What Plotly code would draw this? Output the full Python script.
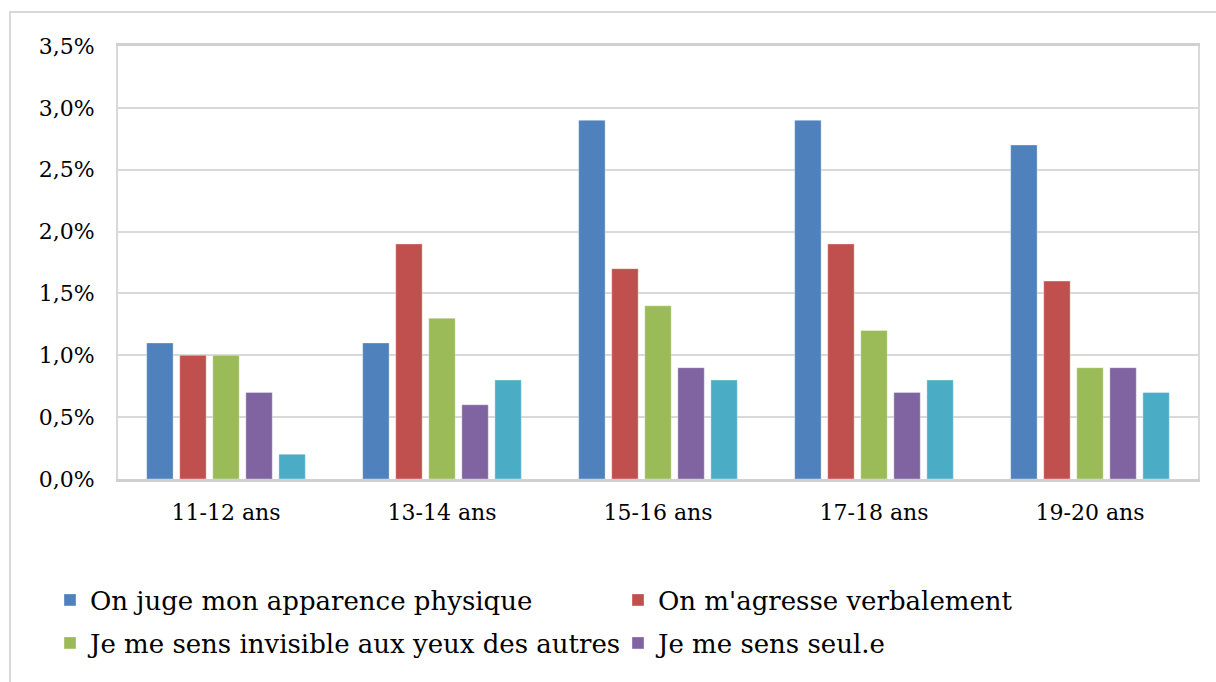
import plotly.graph_objects as go

categories = ["11-12 ans", "13-14 ans", "15-16 ans", "17-18 ans", "19-20 ans"]
series_names = [
    "On juge mon apparence physique",
    "On m'agresse verbalement",
    "Je me sens invisible aux yeux des autres",
    "Je me sens seul.e",
    "Autre",
]
apparence = [1.1, 1.1, 2.9, 2.9, 2.7]
agresse = [1.0, 1.9, 1.7, 1.9, 1.6]
invisible = [1.0, 1.3, 1.4, 1.2, 0.9]
seul = [0.7, 0.6, 0.9, 0.7, 0.9]
autre = [0.2, 0.8, 0.8, 0.8, 0.7]
tick_vals = [0, 0.5, 1.0, 1.5, 2.0, 2.5, 3.0, 3.5]
tick_text = ["0,0%", "0,5%", "1,0%", "1,5%", "2,0%", "2,5%", "3,0%", "3,5%"]

colors = ["#4F81BD", "#C0504D", "#9BBB59", "#8064A2", "#4BACC6"]
all_series = [apparence, agresse, invisible, seul, autre]
legend_refs = ["legend", "legend", "legend2", "legend2", "legend"]
FONT = "DejaVu Serif"

fig = go.Figure()
for i, (name, vals) in enumerate(zip(series_names, all_series)):
    fig.add_trace(go.Bar(
        x=categories, y=vals, name=name,
        marker=dict(color=colors[i], line=dict(color="rgba(255,255,255,0.35)", width=1)),
        showlegend=(i < 4), legend=legend_refs[i],
    ))

W, H = 1216, 682
L, R, T, B = 118, 18, 46, 203
pw = W - L - R
ph = H - T - B

legend_common = dict(
    orientation="h", x=(50 - L) / pw, xanchor="left", yanchor="middle",
    font=dict(size=26, family=FONT, color="#000"),
    entrywidth=523, entrywidthmode="pixels",
    traceorder="normal", itemwidth=30, bgcolor="rgba(0,0,0,0)",
)

fig.update_layout(
    width=W, height=H,
    margin=dict(l=L, r=R, t=T, b=B),
    paper_bgcolor="white", plot_bgcolor="white",
    barmode="group", bargap=0.235, bargroupgap=0.2,
    font=dict(family=FONT, color="#000000"),
    legend=dict(y=(H - B - 600) / ph, **legend_common),
    legend2=dict(y=(H - B - 643) / ph, **legend_common),
    shapes=[dict(type="rect", xref="paper", yref="paper",
                 x0=(10 - L) / pw, x1=(1240 - L) / pw,
                 y0=(H - B - 720) / ph, y1=(H - B - 12) / ph,
                 line=dict(color="#D9D9D9", width=2), fillcolor="rgba(0,0,0,0)", layer="below")],
)
fig.update_yaxes(
    range=[0, 3.5], tickmode="array", tickvals=tick_vals, ticktext=tick_text,
    showgrid=True, gridcolor="#D9D9D9", gridwidth=2,
    showline=True, linecolor="#D9D9D9", linewidth=2, mirror=True,
    zeroline=False, ticks="", ticklabelstandoff=17,
    tickfont=dict(size=22, family=FONT, color="#000"),
)
fig.update_xaxes(
    showline=True, linecolor="#D0D0D0", linewidth=3, mirror=True,
    ticks="", ticklabelstandoff=12,
    tickfont=dict(size=22, family=FONT, color="#000"),
)

fig.write_html("out.html", config={"displayModeBar": False},
               post_script="document.body.style.margin='0';")
